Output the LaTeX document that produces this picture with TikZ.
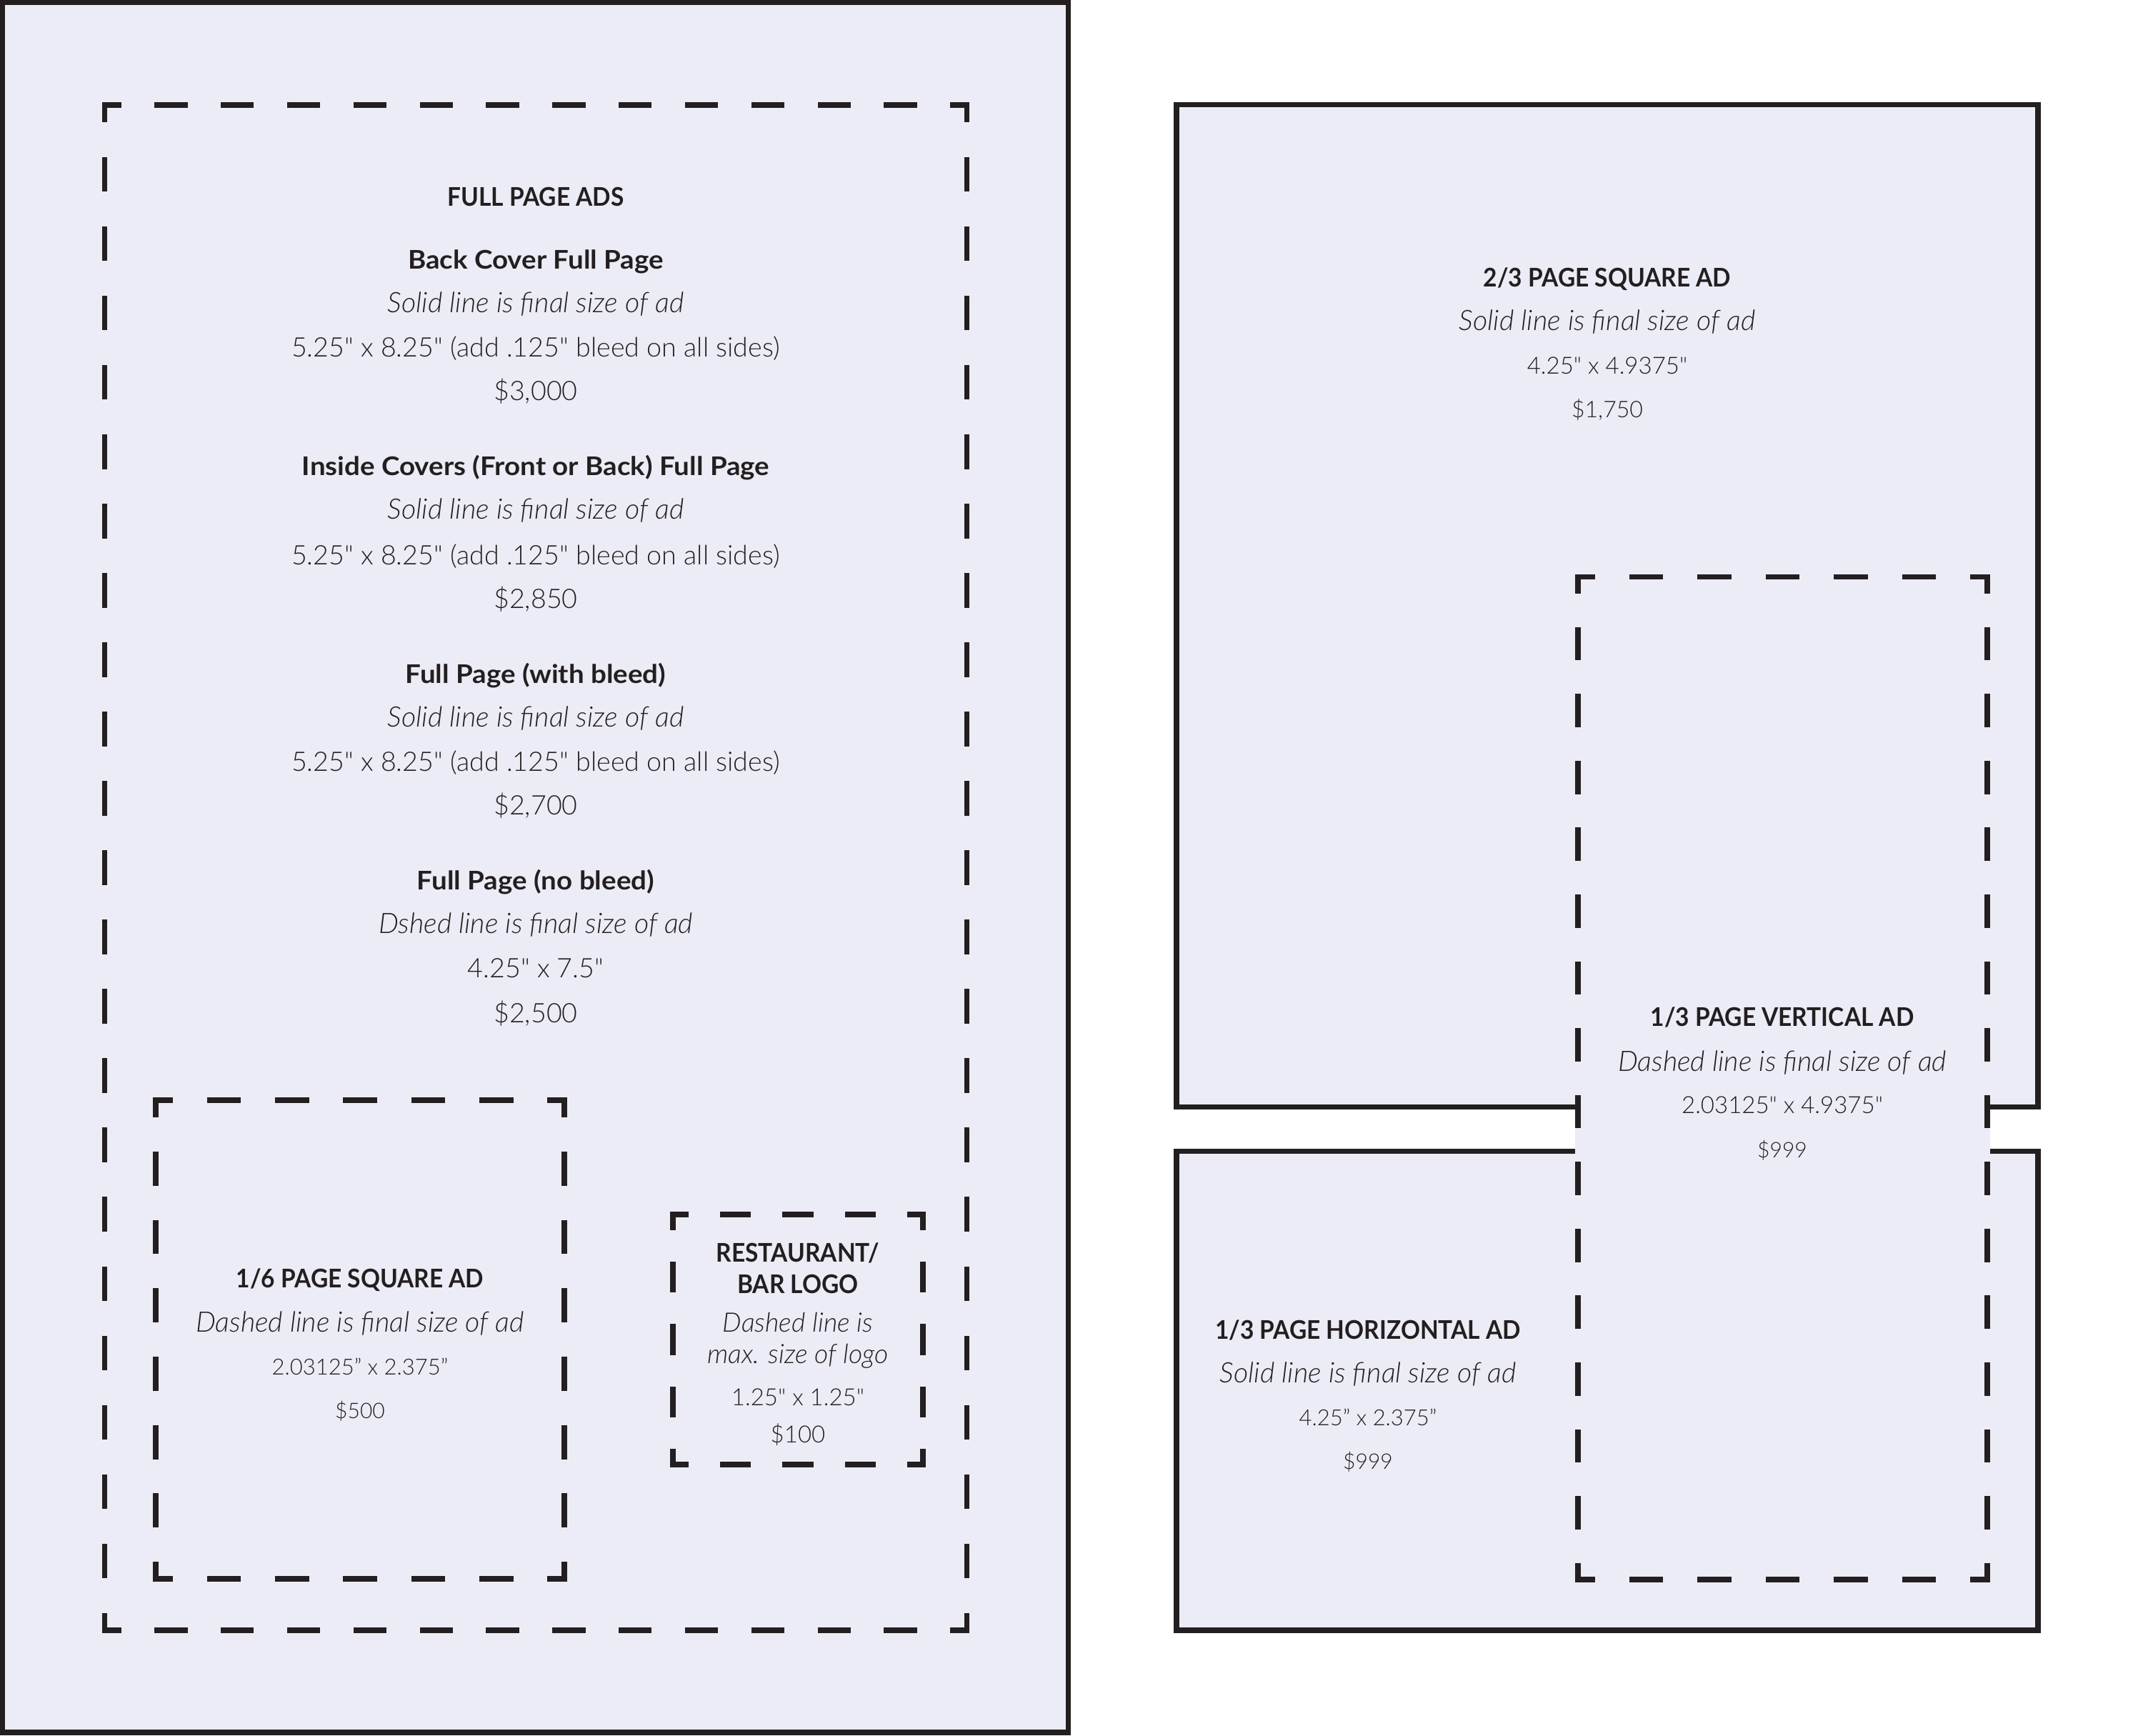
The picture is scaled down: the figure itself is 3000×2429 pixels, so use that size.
\documentclass[tikz,border=0pt]{standalone}
\usepackage{fontspec}
\newfontfamily\lato{Lato}
\newfontfamily\latoBC{Lato}[FakeStretch=0.93]
\newfontfamily\latoBM{Lato}[FakeStretch=1.07]
\IfFontExistsTF{Lato Light}{\newfontfamily\latoL{Lato Light}}{\newfontfamily\latoL{Lato}}
\IfFontExistsTF{Lato Light Italic}{\newfontfamily\latoLI{Lato Light Italic}}{\newcommand\latoLI{\lato\itshape}}
\definecolor{lav}{RGB}{236,236,246}
\definecolor{ink}{RGB}{35,31,32}
\def\lwd{7.3}
\newcommand\dashside[5]{%
  \pgfmathsetmacro\dL{veclen(#3-#1,#4-#2)}%
  \pgfmathsetmacro\dP{\dL/#5}%
  \pgfmathsetmacro\dOn{\dP/2-\lwd}%
  \pgfmathsetmacro\dOff{\dP/2+\lwd}%
  \pgfmathsetmacro\dPh{\dP/4-\lwd/2}%
  \draw[dashln, dash pattern=on \dOn pt off \dOff pt, dash phase=\dPh pt] (#1,#2) -- (#3,#4);%
}
\newcommand\dashrect[6]{%
  \dashside{#1}{#2}{#3}{#2}{#5}%
  \dashside{#3}{#2}{#3}{#4}{#6}%
  \dashside{#3}{#4}{#1}{#4}{#5}%
  \dashside{#1}{#4}{#1}{#2}{#6}%
}
\tikzset{
  solidbox/.style={draw=ink, line width=\lwd pt, fill=lav},
  dashln/.style={draw=ink, line width=\lwd pt, line cap=rect},
  txt/.style={anchor=base, inner sep=0pt, text=ink},
  hdc/.style={txt, font=\latoBC\bfseries\fontsize{36}{40}\selectfont},
  hdm/.style={txt, font=\latoBM\bfseries\fontsize{36}{40}\selectfont},
  itl/.style={txt, font=\latoLI\fontsize{39.5}{44}\selectfont},
  itlg/.style={txt, font=\latoLI\fontsize{37.5}{44}\selectfont},
  rgl/.style={txt, font=\latoL\fontsize{37.6}{44}\selectfont},
  rgs/.style={txt, font=\latoL\fontsize{33}{38}\selectfont},
  rgt/.style={txt, font=\latoL\fontsize{31}{36}\selectfont},
  prs/.style={txt, font=\latoL\fontsize{30}{36}\selectfont},
}
\begin{document}
\begin{tikzpicture}[x=1pt,y=-1pt]
\useasboundingbox (0,0) rectangle (3000,2429);
% left page
\draw[solidbox] (3.65,3.65) rectangle (1495.5,2425);
\dashrect{146.5}{147}{1353.5}{2282}{13}{22}
\dashrect{218}{1540}{790}{2210}{6}{7}
\dashrect{942}{1700}{1292}{2050}{4}{4}
% right side
\draw[solidbox] (1647,146.7) rectangle (2853,1549.5);
\draw[solidbox] (1647,1611.5) rectangle (2853,2282);
\fill[lav] (2209-3.65,807.5-3.65) rectangle (2782+3.65,2211+3.65);
\dashrect{2209}{807.5}{2782}{2211}{6}{15}
% full page texts
\node[hdc] (fpa) at (750,288) {FULL PAGE ADS};
\node[hdm] (bc) at (750,376) {Back Cover Full Page};
\node[itl] (bc1) at (750,437) {Solid line is final size of ad};
\node[rgl] (bc2) at (750,499) {5.25" x 8.25" (add .125" bleed on all sides)};
\node[rgl] (bc3) at (750,560) {\$3,000};
\node[hdm] (ic) at (750,665) {Inside Covers (Front or Back) Full Page};
\node[itl] (ic1) at (750,726) {Solid line is final size of ad};
\node[rgl] (ic2) at (750,790) {5.25" x 8.25" (add .125" bleed on all sides)};
\node[rgl] (ic3) at (750,851) {\$2,850};
\node[hdm] (wb) at (750,956) {Full Page (with bleed)};
\node[itl] (wb1) at (750,1017) {Solid line is final size of ad};
\node[rgl] (wb2) at (750,1079) {5.25" x 8.25" (add .125" bleed on all sides)};
\node[rgl] (wb3) at (750,1140) {\$2,700};
\node[hdm] (nb) at (750,1245) {Full Page (no bleed)};
\node[itl] (nb1) at (750,1306) {Dshed line is final size of ad};
\node[rgl] (nb2) at (750,1368) {4.25" x 7.5"};
\node[rgl] (nb3) at (750,1431) {\$2,500};
% 1/6 square
\node[hdc] (sq) at (504,1802) {1/6 PAGE SQUARE AD};
\node[itl] (sq1) at (504,1864) {Dashed line is final size of ad};
\node[rgt] (sq2) at (504,1924) {2.03125” x 2.375”};
\node[prs] (sq3) at (504,1985) {\$500};
% logo
\node[hdc] (lg) at (1117,1766) {RESTAURANT/};
\node[hdc] (lgb) at (1117,1810) {BAR LOGO};
\node[itlg] (lg1) at (1117,1864) {Dashed line is};
\node[itlg] (lg2) at (1117,1908) {max. size of logo};
\node[rgs] (lg3) at (1117,1967) {1.25" x 1.25"};
\node[rgs] (lg4) at (1117,2019) {\$100};
% 2/3 square
\node[hdc] (tq) at (2250,401) {2/3 PAGE SQUARE AD};
\node[itl] (tq1) at (2250,462) {Solid line is final size of ad};
\node[rgs] (tq2) at (2250,523) {4.25" x 4.9375"};
\node[txt, font=\latoL\fontsize{32}{36}\selectfont] (tq3) at (2250,584) {\$1,750};
% 1/3 vertical
\node[hdc] (vt) at (2495,1436) {1/3 PAGE VERTICAL AD};
\node[itl] (vt1) at (2495,1499) {Dashed line is final size of ad};
\node[rgs] (vt2) at (2495,1558) {2.03125" x 4.9375"};
\node[prs] (vt3) at (2495,1620) {\$999};
% 1/3 horizontal
\node[hdc] (hz) at (1915,1874) {1/3 PAGE HORIZONTAL AD};
\node[itl] (hz1) at (1915,1935) {Solid line is final size of ad};
\node[rgt] (hz2) at (1915,1995) {4.25” x 2.375”};
\node[prs] (hz3) at (1915,2056) {\$999};
\end{tikzpicture}
\end{document}
